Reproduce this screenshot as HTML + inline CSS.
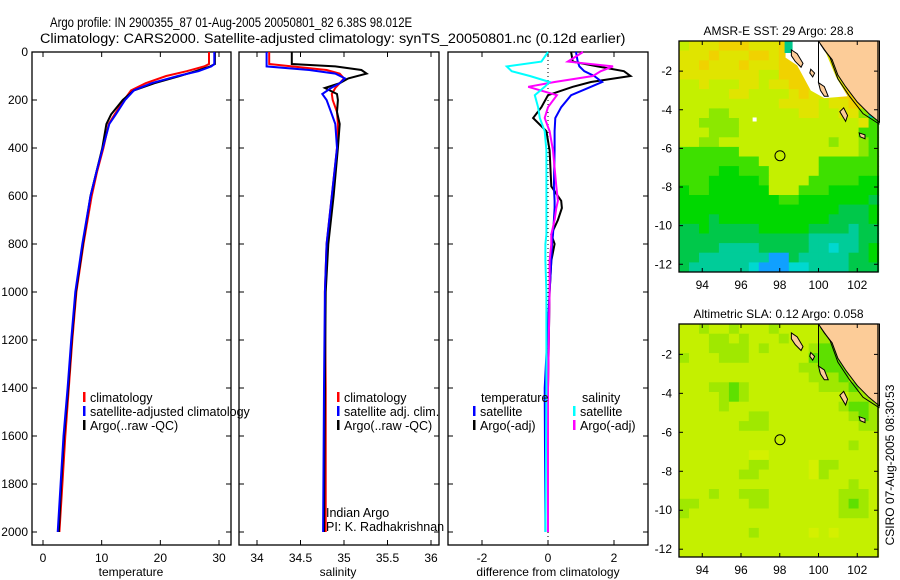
<!DOCTYPE html>
<html><head><meta charset="utf-8"><style>
body{margin:0;background:#fff;}
svg{display:block;font-family:"Liberation Sans",sans-serif;}
</style></head><body>
<svg id="chart" width="900" height="580" viewBox="0 0 900 580">
<text id="t1" x="0" y="0" font-size="14" transform="translate(50,27)">Argo profile: IN 2900355_87 01-Aug-2005 20050801_82 6.38S 98.012E</text>
<text id="t2" x="0" y="0" font-size="14" transform="translate(40,43)">Climatology: CARS2000. Satellite-adjusted climatology: synTS_20050801.nc (0.12d earlier)</text>
<g id="g"></g>
</svg>
<script>
// ---------- data ----------
const depthTicks=[0,200,400,600,800,1000,1200,1400,1600,1800,2000];
const tempTicks=[0,10,20,30];
const salTicks=[34,34.5,35,35.5,36];
const diffTicks=[-2,0,2];
const tempDepth=[0,50,60,80,100,130,160,200,260,300,400,500,600,800,1000,1200,1400,1600,1800,2000];
const tempArgo=[29.3,29.3,28.5,26,23.3,19,15.5,13.6,11.6,10.8,10.1,9.1,8.1,6.8,5.6,4.9,4.3,3.6,3.1,2.7];
const tempClim=[28.3,28.3,27.5,24.5,21,17.5,15,13.8,12.2,11.2,10.3,9.2,8.3,6.9,5.7,5.0,4.4,3.8,3.3,2.8];
const tempSat=[29.2,29.2,28.7,26.5,23,18.5,15.5,14,12.4,11.3,10.2,9.1,8.1,6.7,5.5,4.8,4.2,3.5,3.0,2.5];
const salDepth=[0,50,60,75,90,110,130,150,175,200,250,300,400,600,800,1000,1400,2000];
const salArgo=[34.40,34.40,34.9,35.2,35.26,35.05,34.95,34.78,34.92,34.93,34.92,34.95,34.93,34.88,34.82,34.79,34.78,34.77];
const salClim=[34.14,34.14,34.4,34.8,34.95,35.0,34.95,34.9,34.86,34.87,34.92,34.93,34.92,34.86,34.80,34.78,34.79,34.79];
const salSat=[34.11,34.11,34.11,34.6,34.9,35.01,34.95,34.85,34.75,34.80,34.85,34.90,34.92,34.86,34.80,34.78,34.77,34.76];
const diffDepth=[0,40,60,80,100,125,145,180,230,275,330,410,560,620,650,700,760,800,870,1000,1400,2000];
const dTempSat=[0.85,0.9,0.95,1.1,1.4,1.64,1.3,0.7,0.4,0.22,0.2,0.2,0.18,0.2,0.2,0.18,0.15,0.12,0.1,0.05,-0.1,-0.08];
const dTempArgo=[0.7,0.75,1.5,2.3,2.5,1.3,0.75,0.0,-0.2,-0.45,-0.05,0.05,0.1,0.4,0.42,0.3,0.1,0.2,0.1,0.05,0.0,0.0];
const dSalSat=[0,-0.2,-1.25,-1.1,-0.55,0.05,-0.1,-0.4,-0.3,-0.25,-0.1,-0.05,-0.05,-0.05,-0.05,-0.05,-0.05,-0.08,-0.08,-0.05,-0.05,-0.08];
const dSalArgo=[1.06,0.6,1.97,1.6,1.36,0.2,-0.6,0.27,0.0,-0.1,0.05,0.15,0.25,0.3,0.25,0.2,0.1,0.1,0.05,0.05,0.0,0.0];
const mapXTicks=[94,96,98,100,102];
const mapYTicks=[-2,-4,-6,-8,-10,-12];
const sstGrid=["lyyyoooyyyoooyyyyyyy","yyyoyyyooyooyyyyyyyy","yyoyyyoyyyoooyyyyyyy","yyyyyyyyllooooyyyyyy","llylllyylyyooolyyyyy","lllllyyllllyoyyyoooy","llllllllllyyyylyyoot","lllgglllllllyyllyygt","llggggllllllllllllyG","lllgggllllllllllllGG","llgglllllllllllgllgG","GGGGGGllllllllllllgG","GGGGGGGGllllllGGGGGG","GGGGddGGGlllllGGGGGG","GGGdddddGllllGGGGGdd","dGGddddddlllGGGddddd","ddddddddddGGddddddde","ddddddddddddddddeeed","dddedddddddddddeeeed","eedeeeeedddddeeeetee","eeeeeeeeeeeeetttttee","eeeetttteeeeettctted","eetttttttbbettttteed","ettttttcbbbcctttteee"];
const slaGrid=["llgllglllgllllgggggg","lllgglglllglllggGGgg","lllgggglgllllgGGGggg","glllgggllllllGGGGggg","llllllllllllggGGGggg","lllllllllllllgggGggg","lllggGglllllllgggGgg","llllgGgllllllllllggg","llllglllllllllllgGGg","lllllllggllllllllgGg","llllllggglllllllllgg","llllllllllllllllllll","lllllllllllllllllgll","lllllllyylllllllllll","lllllllggllllyggllll","llllllgglllllyglllll","lllllllllllllllllgll","lllgllggglllllllgggl","gglllllgglllllllgGgl","glllllllllllllllgggl","llllllllllllllllllll","lllllllglllllylyllll","llllllllllllllllllll","llllllllllllllllllll"];
const sstColors={o:"#f0d200",y:"#e0e400",l:"#c4f000",g:"#8ce800",G:"#3ee000",d:"#00d800",e:"#00c84a",t:"#00cc99",c:"#00d8d0",b:"#10a0ff"};
const slaColors={y:"#d4f000",l:"#c4f000",g:"#a0e800",G:"#5ee000"};
const landLon=[100.0,100.3,100.7,101.0,101.4,102.0,102.6,103.15,103.15];
const landLat=[-0.44,-0.9,-1.4,-2.2,-2.8,-3.6,-4.2,-4.65,-0.44];
const floatLon=98.012, floatLat=-6.38;

// fit titles to reference widths
(function(){
 const t1=document.getElementById('t1'),t2=document.getElementById('t2');
 const w1=t1.getComputedTextLength(),w2=t2.getComputedTextLength();
 if(w1>0)t1.setAttribute('transform','translate(50,27) scale('+(362/w1).toFixed(3)+',1)');
 if(w2>0)t2.setAttribute('transform','translate(40,43) scale('+(586/w2).toFixed(3)+',1)');
})();

// ---------- helpers ----------
const NS="http://www.w3.org/2000/svg";
const G=document.getElementById('g');
function mk(tag,at,parent){const e=document.createElementNS(NS,tag);for(const k in at)e.setAttribute(k,at[k]);(parent||G).appendChild(e);return e;}
const dY=d=>52+d*0.24;
const P=[
 {l:32,r:231,x:v=>43+(v-0)*5.867},
 {l:239,r:439,x:v=>257+(v-34)*87},
 {l:448,r:648,x:v=>548+v*33}
];
const pTop=52,pBot=545;

function frame(p,name){
 const r=mk('rect',{x:p.l,y:pTop,width:p.r-p.l,height:pBot-pTop,fill:'none',stroke:'#000','stroke-width':1.3});
 
 
}
function xticks(p,ticks,name){
 ticks.forEach(t=>{const x=p.x(t);
  mk('line',{x1:x,x2:x,y1:pBot,y2:pBot-5,stroke:'#000'});
  mk('line',{x1:x,x2:x,y1:pTop,y2:pTop+5,stroke:'#000'});
  const tx=mk('text',{x:x,y:pBot+17,'font-size':12,'text-anchor':'middle'});tx.textContent=t;
  
  
 });
 depthTicks.forEach(d=>{const y=dY(d);
  mk('line',{x1:p.l,x2:p.l+5,y1:y,y2:y,stroke:'#000'});
  mk('line',{x1:p.r,x2:p.r-5,y1:y,y2:y,stroke:'#000'});
 });
}
function line(p,dep,vals,color,name,w){
 const pts=dep.map((d,i)=>p.x(vals[i]).toFixed(1)+','+dY(d).toFixed(1)).join(' ');
 const l=mk('polyline',{points:pts,fill:'none',stroke:color,'stroke-width':w||2});
 
 
}
function txt(x,y,s,name,size,anchor){
 const t=mk('text',{x:x,y:y,'font-size':size||12,'text-anchor':anchor||'start'});t.textContent=s;
 
 
 return t;
}
function legend(x,y,color,s,name){
 mk('rect',{x:x,y:y-10,width:2.5,height:10,fill:color});
 const t=txt(x+7,y,s,name,12.5);
 
}

depthTicks.forEach(d=>{
 txt(28,dY(d)+4,d,'depth-tick-label',12,'end');
});

// Panel 1 temperature
frame(P[0],'temperature-panel');xticks(P[0],tempTicks,'temperature');
line(P[0],tempDepth,tempClim,'#ff0000','temperature-climatology-line');
line(P[0],tempDepth,tempArgo,'#000000','temperature-argo-line');
line(P[0],tempDepth,tempSat,'#0000ff','temperature-satellite-line');
txt(131,576,'temperature','temperature-axis-title',12,'middle');
legend(83,402,'#ff0000','climatology','legend-climatology');
legend(83,416,'#0000ff','satellite-adjusted climatology','legend-satellite-adjusted');
legend(83,430,'#000000','Argo(..raw -QC)','legend-argo');

// Panel 2 salinity
frame(P[1],'salinity-panel');xticks(P[1],salTicks,'salinity');
line(P[1],salDepth,salClim,'#ff0000','salinity-climatology-line');
line(P[1],salDepth,salArgo,'#000000','salinity-argo-line');
line(P[1],salDepth,salSat,'#0000ff','salinity-satellite-line');
txt(338,576,'salinity','salinity-axis-title',12,'middle');
legend(337,402,'#ff0000','climatology','legend-sal-climatology');
legend(337,416,'#0000ff','satellite adj. clim.','legend-sal-satellite');
legend(337,430,'#000000','Argo(..raw -QC)','legend-sal-argo');
txt(326,517,'Indian Argo','pi-institution',12.5);
txt(326,531,'PI: K. Radhakrishnan','pi-name',12.5);

// Panel 3 differences
frame(P[2],'difference-panel');xticks(P[2],diffTicks,'difference');
mk('line',{x1:548,x2:548,y1:pTop,y2:pBot,stroke:'#000','stroke-dasharray':'1,3'});
line(P[2],diffDepth,dTempArgo,'#000000','diff-temp-argo-line');
line(P[2],diffDepth,dTempSat,'#0000ff','diff-temp-satellite-line');
line(P[2],diffDepth,dSalArgo,'#ff00ff','diff-sal-argo-line');
line(P[2],diffDepth,dSalSat,'#00ffff','diff-sal-satellite-line');
txt(548,576,'difference from climatology','difference-axis-title',12,'middle');
txt(481,402,'temperature','legend-temp-heading',12.5);
legend(473,416,'#0000ff','satellite','legend-diff-temp-satellite');
legend(473,430,'#000000','Argo(-adj)','legend-diff-temp-argo');
txt(582,402,'salinity','legend-sal-heading',12.5);
legend(573,416,'#00ffff','satellite','legend-diff-sal-satellite');
legend(573,430,'#ff00ff','Argo(-adj)','legend-diff-sal-argo');

// ---------- maps ----------
function drawMap(mTop,mBot,grid,colors,title,name,white){
 const L=679,R=878;
 const mx=lon=>L+(lon-92.8)*19.375;
 const my=lat=>mTop+(-0.44-lat)*((mBot-mTop)/11.96);
 const g=mk('g',{});
 
 
 const rows=grid.length,cols=grid[0].length;
 const lonStep=10.3/cols,latStep=11.96/rows;
 for(let r=0;r<rows;r++)for(let c=0;c<cols;c++){
  const lon0=92.8+c*lonStep,lat0=-0.44-r*latStep;
  const x0=mx(lon0),x1=mx(lon0+lonStep),y0=my(lat0),y1=my(lat0-latStep);
  const cell=mk('rect',{x:x0.toFixed(1),y:y0.toFixed(1),width:(x1-x0+0.5).toFixed(1),height:(y1-y0+0.5).toFixed(1),fill:colors[grid[r][c]]},g);
  
  
 }
 if(white){
  const wp=[[98.3,-0.44],[100,-0.44],[100.4,-1.1],[100.9,-2.3],[101.5,-3.3],[100.3,-3.4],[99.6,-3.0],[98.9,-1.7],[98.3,-1.3]];
  mk('polygon',{points:wp.map(p=>mx(p[0])+','+my(p[1])).join(' '),fill:'#fff'},g);
  mk('rect',{x:mx(98.25),y:my(-0.44),width:8,height:12,fill:'#00c88c'},g);
  mk('rect',{x:mx(96.6),y:my(-4.4),width:4,height:4,fill:'#fff'},g);
 }
 const land=mk('polygon',{points:landLon.map((lo,i)=>mx(lo).toFixed(1)+','+my(landLat[i]).toFixed(1)).join(' '),fill:'#fccc98',stroke:'#000','stroke-width':1},g);
 
 
 const cl=[[100.1,-0.6],[100.6,-1.3],[101.0,-2.4],[101.6,-3.3],[102.3,-4.2],[103.15,-4.75]];
 mk('polyline',{points:cl.map(p=>mx(p[0])+','+my(p[1])).join(' '),fill:'none',stroke:'#000','stroke-width':1},g);
 const isl=[[[98.6,-0.9],[98.9,-1.1],[99.2,-1.6],[99.1,-1.8],[98.8,-1.5],[98.6,-1.2]],
  [[99.6,-1.9],[99.8,-2.1],[99.7,-2.3],[99.55,-2.1]],
  [[100.0,-2.6],[100.3,-2.8],[100.5,-3.3],[100.3,-3.3],[100.1,-3.0]],
  [[101.3,-3.9],[101.5,-4.3],[101.4,-4.6],[101.1,-4.1]],
  [[102.1,-5.2],[102.4,-5.3],[102.4,-5.5],[102.15,-5.4]]];
 isl.forEach(s=>mk('polygon',{points:s.map(p=>mx(p[0])+','+my(p[1])).join(' '),fill:'#fccc98',stroke:'#000','stroke-width':1},g));
 mk('line',{x1:mx(100),x2:mx(100),y1:my(-0.44),y2:my(-2.6),stroke:'#000','stroke-width':1},g);
 const fl=mk('circle',{cx:mx(floatLon),cy:my(floatLat),r:5,fill:'none',stroke:'#000','stroke-width':1},g);
 
 
 mk('rect',{x:L,y:mTop,width:R-L,height:mBot-mTop,fill:'none',stroke:'#000','stroke-width':1.3},g);
 mapXTicks.forEach(t=>{const x=mx(t);
  mk('line',{x1:x,x2:x,y1:mBot,y2:mBot-4,stroke:'#000'},g);
  mk('line',{x1:x,x2:x,y1:mTop,y2:mTop+4,stroke:'#000'},g);
  txt(x,mBot+17,t,name+'-lon-tick',12,'middle');
 });
 mapYTicks.forEach(t=>{const y=my(t);
  mk('line',{x1:L,x2:L+4,y1:y,y2:y,stroke:'#000'},g);
  mk('line',{x1:R,x2:R-4,y1:y,y2:y,stroke:'#000'},g);
  txt(L-7,y+4,t,name+'-lat-tick',12,'end');
 });
 txt((L+R)/2,mTop-6,title,name+'-title',12,'middle');
}
drawMap(41,272,sstGrid,sstColors,'AMSR-E SST: 29 Argo: 28.8','sst-map',true);
drawMap(324,557,slaGrid,slaColors,'Altimetric SLA: 0.12 Argo: 0.058','sla-map',false);

const cs=txt(0,0,'CSIRO 07-Aug-2005 08:30:53','timestamp',12,'middle');
cs.setAttribute('transform','translate(894,465) rotate(-90)');
</script>
</body></html>
